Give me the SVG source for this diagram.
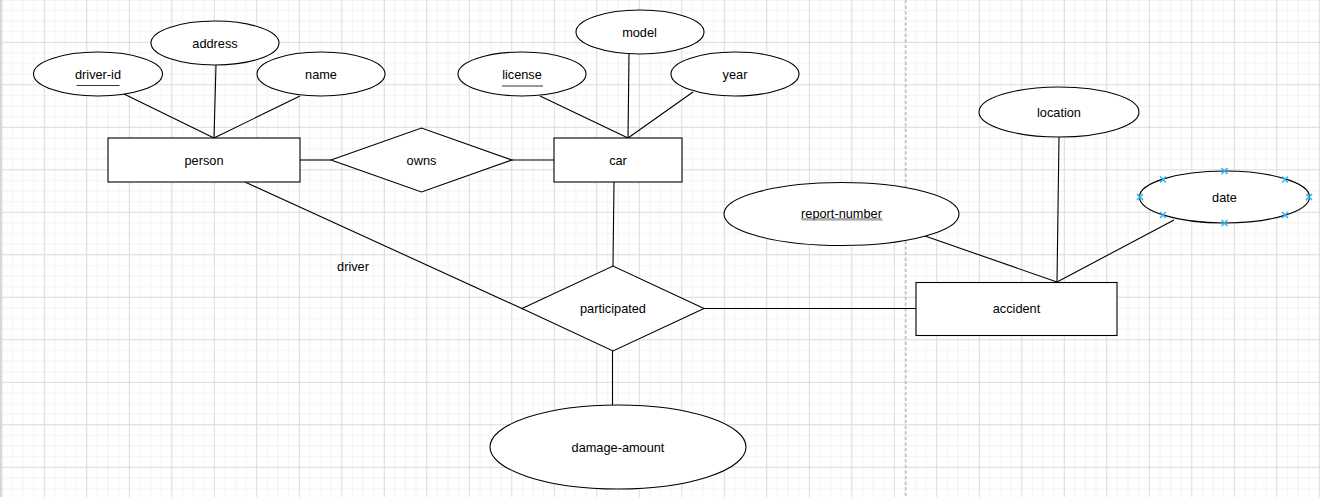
<svg xmlns="http://www.w3.org/2000/svg" xmlns:xlink="http://www.w3.org/1999/xlink" width="1320" height="497" viewBox="0 0 1320 497">
  <defs>
    <pattern id="grid" width="42.5" height="42.5" patternUnits="userSpaceOnUse" x="1.3" y="-0.7">
      <rect x="10.625" y="0" width="1" height="42.5" fill="#f2f2f2"/>
      <rect x="21.25" y="0" width="1" height="42.5" fill="#f2f2f2"/>
      <rect x="31.875" y="0" width="1" height="42.5" fill="#f2f2f2"/>
      <rect x="0" y="10.625" width="42.5" height="1" fill="#f2f2f2"/>
      <rect x="0" y="21.25" width="42.5" height="1" fill="#f2f2f2"/>
      <rect x="0" y="31.875" width="42.5" height="1" fill="#f2f2f2"/>
      <rect x="0" y="0" width="1" height="42.5" fill="#dadada"/>
      <rect x="0" y="0" width="42.5" height="1" fill="#dadada"/>
    </pattern>
    <g id="handle">
      <path d="M-3,-3 L3,3 M-3,3 L3,-3" stroke="#29b6f2" stroke-width="1.5" fill="none"/>
    </g>
  </defs>
  <style>
    .shape { fill: #ffffff; stroke: #000000; stroke-width: 1.1; }
    .edge { fill: none; stroke: #000000; stroke-width: 1.1; }
    .key { stroke: #333333; stroke-width: 1.1; }
    text { font-family: "Liberation Sans", Arial, sans-serif; font-size: 12.75px; fill: #000000; text-anchor: middle; dominant-baseline: central; }
  </style>

  <!-- canvas -->
  <rect x="0" y="0" width="1320" height="497" fill="#ffffff"/>
  <rect x="0" y="0" width="1320" height="497" fill="url(#grid)"/>
  <rect x="0" y="0" width="2" height="497" fill="#d8d8d8"/>
  <line x1="905.7" y1="0" x2="905.7" y2="497" stroke="#c8c8c8" stroke-width="2" stroke-dasharray="3.3 2.3"/>

  <!-- connectors -->
  <g id="connectors">
    <line class="edge" x1="124" y1="94" x2="214" y2="138"/>
    <line class="edge" x1="216" y1="65" x2="214" y2="138"/>
    <line class="edge" x1="300" y1="96" x2="214" y2="138"/>
    <line class="edge" x1="540" y1="96" x2="628" y2="138"/>
    <line class="edge" x1="629" y1="54" x2="628" y2="138"/>
    <line class="edge" x1="693" y1="92" x2="628" y2="138"/>
    <line class="edge" x1="300" y1="160" x2="331" y2="160"/>
    <line class="edge" x1="512" y1="160" x2="554" y2="160"/>
    <line class="edge" x1="245" y1="182" x2="523" y2="309"/>
    <line class="edge" x1="614" y1="182" x2="613" y2="266"/>
    <line class="edge" x1="704" y1="308.5" x2="916" y2="308.5"/>
    <line class="edge" x1="612.5" y1="351" x2="612.5" y2="405"/>
    <line class="edge" x1="925" y1="236" x2="1057" y2="282"/>
    <line class="edge" x1="1059" y1="137" x2="1057" y2="282"/>
    <line class="edge" x1="1174" y1="220" x2="1057" y2="282"/>
  </g>

  <!-- entities -->
  <g id="person">
    <rect class="shape" x="108" y="138" width="192" height="44"/>
    <text x="204" y="160">person</text>
  </g>
  <g id="car">
    <rect class="shape" x="554" y="138" width="128" height="44"/>
    <text x="618" y="160">car</text>
  </g>
  <g id="accident">
    <rect class="shape" x="916" y="282.5" width="201" height="53"/>
    <text x="1016.5" y="308.5">accident</text>
  </g>

  <!-- relationships -->
  <g id="owns">
    <polygon class="shape" points="331,160 421.5,128 512,160 421.5,192"/>
    <text x="421.5" y="160">owns</text>
  </g>
  <g id="participated">
    <polygon class="shape" points="522,308.5 613,266 704,308.5 613,351"/>
    <text x="613" y="308.5">participated</text>
  </g>
  <g id="driver-label">
    <text x="353" y="266">driver</text>
  </g>

  <!-- attributes -->
  <g id="driver-id">
    <ellipse class="shape" cx="98" cy="74" rx="64.5" ry="22"/>
    <text x="98" y="74">driver-id</text>
    <line class="key" x1="76.5" y1="85.5" x2="119.5" y2="85.5"/>
  </g>
  <g id="address">
    <ellipse class="shape" cx="215" cy="43" rx="64" ry="22"/>
    <text x="215" y="43">address</text>
  </g>
  <g id="name">
    <ellipse class="shape" cx="321" cy="74" rx="64" ry="22"/>
    <text x="321" y="74">name</text>
  </g>
  <g id="license">
    <ellipse class="shape" cx="522" cy="74" rx="64" ry="22"/>
    <text x="522" y="74">license</text>
    <line class="key" x1="502" y1="86" x2="543" y2="86"/>
  </g>
  <g id="model">
    <ellipse class="shape" cx="640" cy="32" rx="64" ry="22"/>
    <text x="639.5" y="32">model</text>
  </g>
  <g id="year">
    <ellipse class="shape" cx="735" cy="74" rx="64" ry="22"/>
    <text x="735" y="74">year</text>
  </g>
  <g id="location">
    <ellipse class="shape" cx="1059" cy="112" rx="80" ry="25"/>
    <text x="1059" y="112">location</text>
  </g>
  <g id="date">
    <ellipse class="shape" cx="1224.5" cy="197" rx="85" ry="26"/>
    <text x="1224.5" y="197">date</text>
    <use xlink:href="#handle" x="1224.5" y="171"/>
    <use xlink:href="#handle" x="1224.5" y="223"/>
    <use xlink:href="#handle" x="1140" y="197"/>
    <use xlink:href="#handle" x="1309" y="197"/>
    <use xlink:href="#handle" x="1163" y="179.5"/>
    <use xlink:href="#handle" x="1285" y="179.5"/>
    <use xlink:href="#handle" x="1163" y="215"/>
    <use xlink:href="#handle" x="1285" y="215"/>
  </g>
  <g id="report-number">
    <ellipse class="shape" cx="841.5" cy="214" rx="117.5" ry="31.5"/>
    <text x="841.5" y="213.5">report-number</text>
    <line x1="801" y1="219" x2="882" y2="219" stroke="#555555" stroke-width="1"/>
    <line x1="802" y1="220.3" x2="883" y2="220.3" stroke="#bbbbbb" stroke-width="1"/>
  </g>
  <g id="damage-amount">
    <ellipse class="shape" cx="618" cy="447" rx="128" ry="42"/>
    <text x="618" y="447">damage-amount</text>
  </g>
</svg>
